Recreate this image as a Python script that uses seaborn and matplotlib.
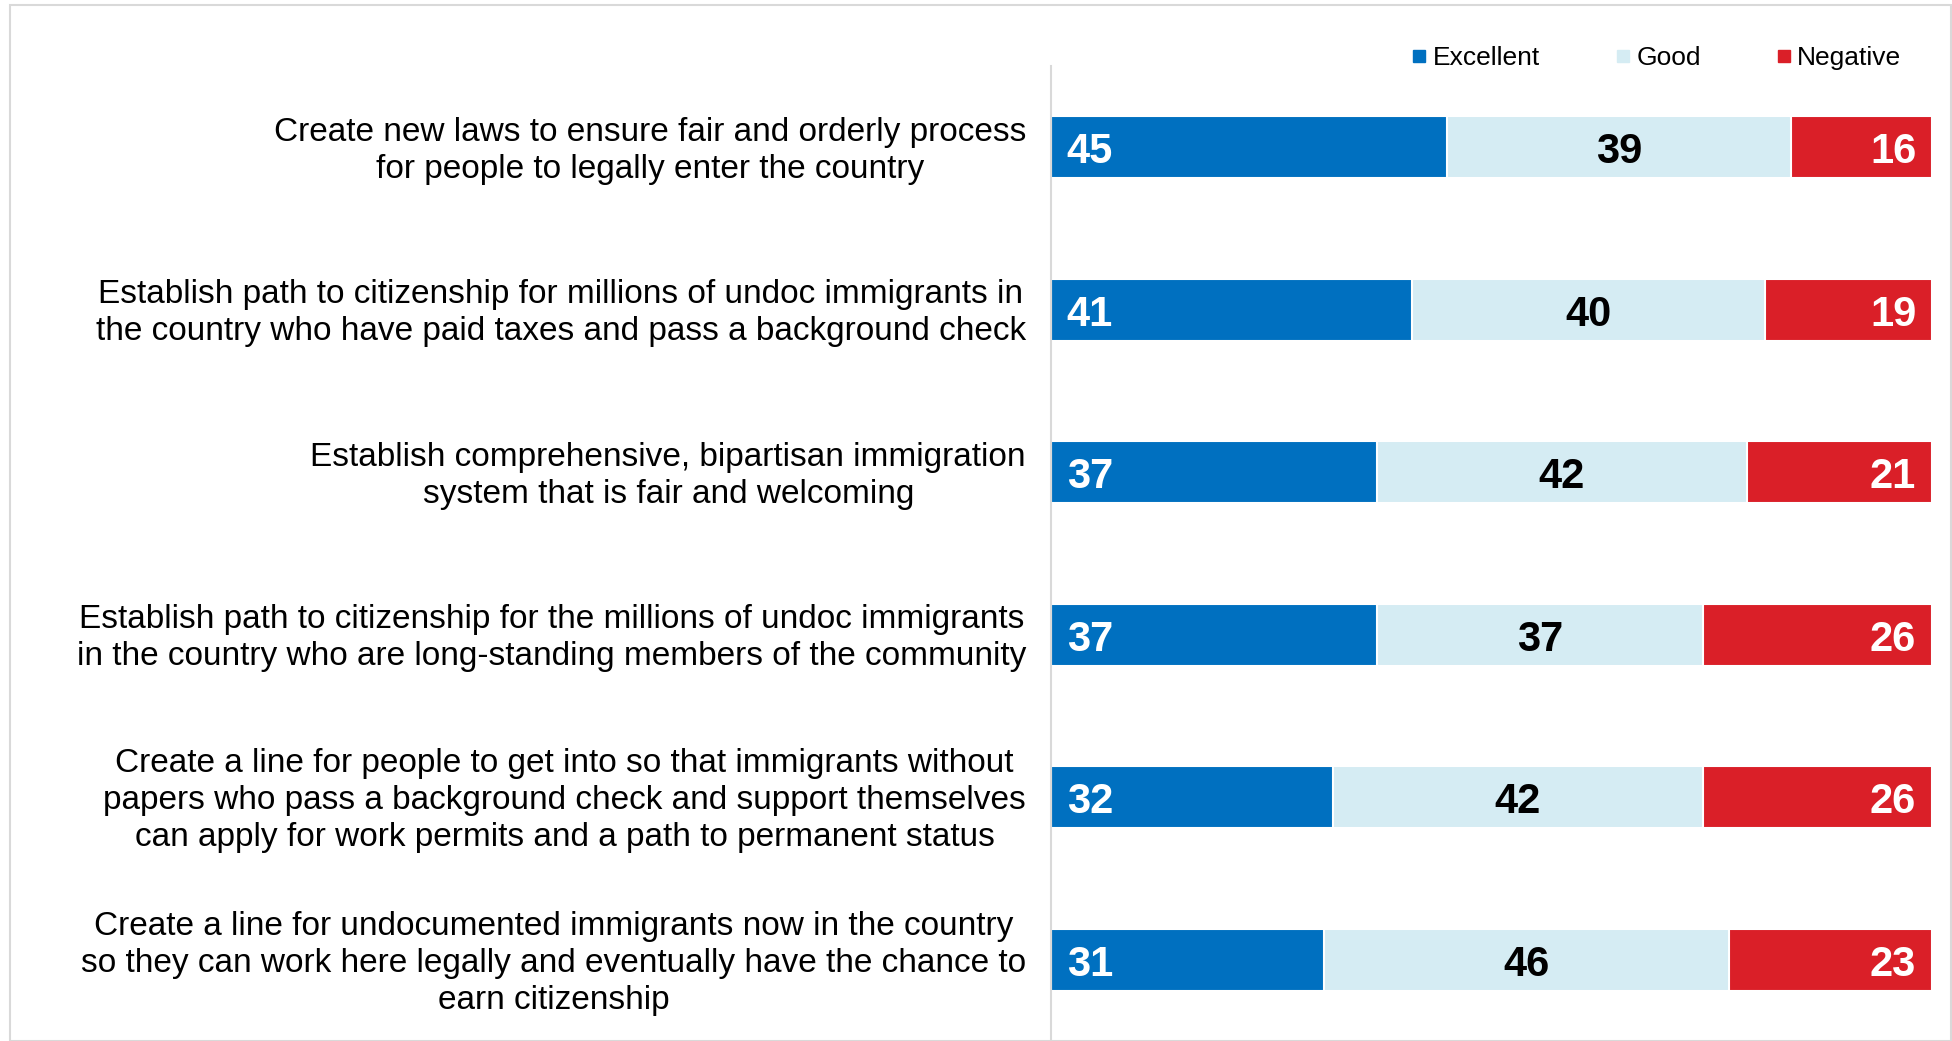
import pandas as pd
import matplotlib.pyplot as plt
import seaborn as sns
from matplotlib.lines import Line2D
from matplotlib.patches import Rectangle
from matplotlib.transforms import ScaledTranslation

# ==============================
# DATA
# ==============================
statements = [
    "Create new laws to ensure fair and orderly process\nfor people to legally enter the country",
    "Establish path to citizenship for millions of undoc immigrants in\nthe country who have paid taxes and pass a background check",
    "Establish comprehensive, bipartisan immigration\nsystem that is fair and welcoming",
    "Establish path to citizenship for the millions of undoc immigrants\nin the country who are long-standing members of the community",
    "Create a line for people to get into so that immigrants without\npapers who pass a background check and support themselves\ncan apply for work permits and a path to permanent status",
    "Create a line for undocumented immigrants now in the country\nso they can work here legally and eventually have the chance to\nearn citizenship",
]
excellent = [45, 41, 37, 37, 32, 31]
good = [39, 40, 42, 37, 42, 46]
negative = [16, 19, 21, 26, 26, 23]
series_names = ["Excellent", "Good", "Negative"]
colors = ["#0070C0", "#D5ECF3", "#DA1F28"]

df = pd.DataFrame({"statement": statements, "Excellent": excellent,
                   "Good": good, "Negative": negative})
df["ex_good"] = df["Excellent"] + df["Good"]
df["total"] = df["ex_good"] + df["Negative"]

# ==============================
# PLOT
# ==============================
sns.set_style("white")
plt.rcParams["font.family"] = ["Liberation Sans", "DejaVu Sans"]
plt.rcParams["text.color"] = "black"
plt.rcParams["ytick.color"] = "black"

fig = plt.figure(figsize=(19.52, 10.41), dpi=100)
ax = fig.add_axes([1051 / 1952, 0, 881 / 1952, (1041 - 66) / 1041])

# stacked bars drawn back to front
bw = 0.38
sns.barplot(data=df, y="statement", x="total", color=colors[2], orient="h",
            width=bw, edgecolor="white", linewidth=1.5, saturation=1, ax=ax)
sns.barplot(data=df, y="statement", x="ex_good", color=colors[1], orient="h",
            width=bw, edgecolor="white", linewidth=1.5, saturation=1, ax=ax)
sns.barplot(data=df, y="statement", x="Excellent", color=colors[0], orient="h",
            width=bw, edgecolor="white", linewidth=1.5, saturation=1, ax=ax)

# value labels
for i in range(len(df)):
    ax.text(1.8, i + 0.03, str(excellent[i]), ha="left", va="center",
            color="white", fontsize=30, fontweight="bold")
    ax.text(excellent[i] + good[i] / 2, i + 0.03, str(good[i]), ha="center",
            va="center", color="black", fontsize=30, fontweight="bold")
    ax.text(df["total"][i] - 1.8, i + 0.03, str(negative[i]), ha="right",
            va="center", color="white", fontsize=30, fontweight="bold")

ax.set_xlim(0, 100)
ax.set_ylim(5.5, -0.5)
ax.set_xlabel("")
ax.set_ylabel("")
ax.set_xticks([])
ax.tick_params(axis="y", length=0, pad=18, labelcolor="black")
shift = ScaledTranslation(0, 0.03, fig.dpi_scale_trans)
for lab in ax.get_yticklabels():
    lab.set_fontsize(24)
    lab.set_multialignment("center")
    lab.set_linespacing(1.25)
    lab.set_transform(lab.get_transform() + shift)
for s in ["top", "right", "bottom"]:
    ax.spines[s].set_visible(False)
ax.spines["left"].set_color("#D9D9D9")
ax.spines["left"].set_linewidth(1.5)

# legend
handles = [Line2D([], [], marker="s", linestyle="", markersize=9,
                  markerfacecolor=c, markeredgecolor=c) for c in colors]
fig.legend(handles, series_names, ncol=3, loc="center",
           bbox_to_anchor=(1655 / 1952, 1 - 58 / 1041), frameon=False,
           fontsize=19, handletextpad=0.1, columnspacing=2.75,
           handlelength=0.8)

# outer frame
fig.patches.append(Rectangle((10 / 1952, 0), 1 - 10 / 1952 - 0.0005,
                             1 - 5 / 1041, transform=fig.transFigure,
                             fill=False, edgecolor="#D9D9D9", linewidth=1.5))

plt.savefig("out.png", dpi=100)
